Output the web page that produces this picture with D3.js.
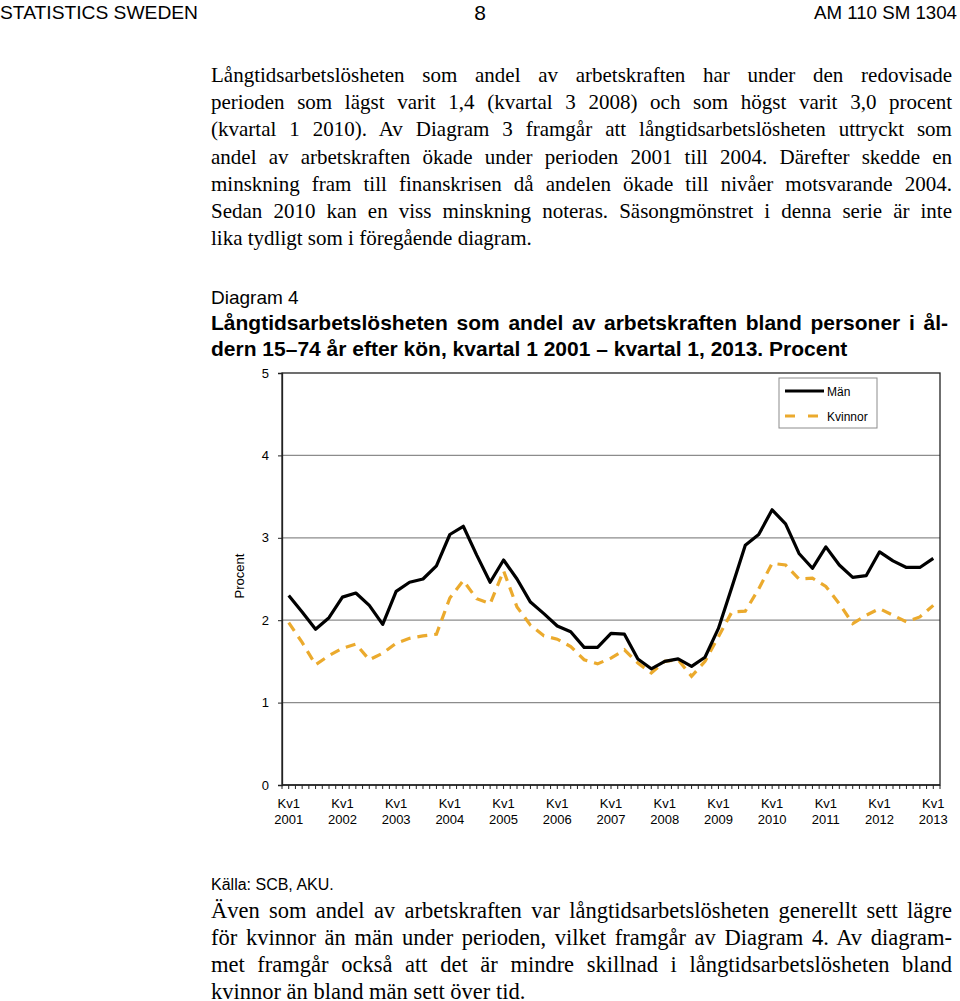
<!DOCTYPE html>
<html><head><meta charset="utf-8">
<script src="https://cdn.jsdelivr.net/npm/d3@7"></script>
<style>body{margin:0;background:#fff}svg{display:block}</style>
</head><body>
<script>
const years = ["2001","2002","2003","2004","2005","2006","2007","2008","2009","2010","2011","2012","2013"];
const quarters = d3.range(49).map(i => years[Math.floor(i/4)] + "Q" + (i%4+1));
const men = [2.30,2.10,1.89,2.03, 2.28,2.33,2.18,1.95, 2.35,2.46,2.50,2.66, 3.04,3.14,2.79,2.46,
  2.73,2.50,2.22,2.08, 1.93,1.86,1.67,1.67, 1.84,1.83,1.53,1.41, 1.50,1.53,1.44,1.55,
  1.90,2.40,2.91,3.04, 3.34,3.17,2.81,2.63, 2.89,2.67,2.52,2.54, 2.83,2.72,2.64,2.64, 2.75];
const women = [1.97,1.73,1.46,1.57, 1.66,1.71,1.52,1.60, 1.72,1.78,1.81,1.83, 2.27,2.48,2.26,2.20,
  2.60,2.16,1.94,1.81, 1.77,1.68,1.52,1.47, 1.54,1.64,1.48,1.36, 1.50,1.52,1.32,1.50,
  1.80,2.10,2.11,2.38, 2.69,2.67,2.50,2.51, 2.41,2.20,1.96,2.06, 2.14,2.06,1.98,2.04, 2.18];
const yTicks = [0,1,2,3,4,5];
const seriesNames = ["Män","Kvinnor"];

const para1 = [
 "Långtidsarbetslösheten som andel av arbetskraften har under den redovisade",
 "perioden som lägst varit 1,4 (kvartal 3 2008) och som högst varit 3,0 procent",
 "(kvartal 1 2010). Av Diagram 3 framgår att långtidsarbetslösheten uttryckt som",
 "andel av arbetskraften ökade under perioden 2001 till 2004. Därefter skedde en",
 "minskning fram till finanskrisen då andelen ökade till nivåer motsvarande 2004.",
 "Sedan 2010 kan en viss minskning noteras. Säsongmönstret i denna serie är inte",
 "lika tydligt som i föregående diagram."];
const para2 = [
 "Även som andel av arbetskraften var långtidsarbetslösheten generellt sett lägre",
 "för kvinnor än män under perioden, vilket framgår av Diagram 4. Av diagram-",
 "met framgår också att det är mindre skillnad i långtidsarbetslösheten bland",
 "kvinnor än bland män sett över tid."];

const W = 960, H = 1001;
const svg = d3.select("body").append("svg").attr("width", W).attr("height", H);
const sans = "'Liberation Sans', Arial, sans-serif";
const serif = "'Liberation Serif', 'Times New Roman', serif";

function justify(el, width){
  const node = el.node();
  const natural = node.getComputedTextLength();
  const n = (el.text().match(/ /g) || []).length;
  if (natural > width) { el.attr("textLength", width).attr("lengthAdjust","spacingAndGlyphs"); return; }
  if (n > 0) el.attr("word-spacing", ((width - natural)/n).toFixed(2));
}

// header
svg.append("text").attr("x",0).attr("y",19).attr("font-family",sans).attr("font-size",18)
  .attr("textLength",198).attr("lengthAdjust","spacingAndGlyphs").text("STATISTICS SWEDEN");
svg.append("text").attr("x",480).attr("y",20).attr("font-family",sans).attr("font-size",21)
  .attr("text-anchor","middle").text("8");
svg.append("text").attr("x",957).attr("y",19).attr("font-family",sans).attr("font-size",18)
  .attr("text-anchor","end").attr("textLength",143).attr("lengthAdjust","spacingAndGlyphs").text("AM 110 SM 1304");

function para(lines, y0, lh, fs, width){
  lines.forEach((t,i)=>{
    const el = svg.append("text").attr("x",211).attr("y",y0+i*lh)
      .attr("font-family",serif).attr("font-size",fs).attr("fill","#000").text(t);
    if (i < lines.length-1) justify(el, width);
  });
}
para(para1, 82, 27.2, 21, 741);
para(para2, 918, 27, 22.5, 741);

// diagram title
svg.append("text").attr("x",211).attr("y",304).attr("font-family",sans).attr("font-size",19).text("Diagram 4");
const t1 = svg.append("text").attr("x",211).attr("y",330).attr("font-family",sans).attr("font-size",21).attr("font-weight","bold")
  .text("Långtidsarbetslösheten som andel av arbetskraften bland personer i ål-");
justify(t1, 737);
svg.append("text").attr("x",211).attr("y",356).attr("font-family",sans).attr("font-size",21).attr("font-weight","bold")
  .text("dern 15–74 år efter kön, kvartal 1 2001 – kvartal 1, 2013. Procent");

// chart
const L = 282, R = 940, T = 373, B = 785;
const x = d3.scaleBand().domain(quarters).range([L, R]).padding(0);
const y = d3.scaleLinear().domain([0,5]).range([B, T]);
const cx = q => x(q) + x.bandwidth()/2;

// gridlines
svg.append("g").selectAll("line").data(yTicks.filter(v=>v>0 && v<5)).join("line")
  .attr("x1",L).attr("x2",R).attr("y1",d=>y(d)).attr("y2",d=>y(d))
  .attr("stroke","#8c8c8c").attr("stroke-width",1.2);

// frame
svg.append("rect").attr("x",L).attr("y",T).attr("width",R-L).attr("height",B-T)
  .attr("fill","none").attr("stroke","#222").attr("stroke-width",1.3);

// y axis
const yAxis = svg.append("g").attr("transform",`translate(${L},0)`)
  .call(d3.axisLeft(y).tickValues(yTicks).tickSize(4).tickPadding(9).tickFormat(d3.format("d")));
yAxis.select(".domain").attr("stroke","#222").attr("stroke-width",1.3);
yAxis.selectAll("line").attr("stroke","#222");
yAxis.selectAll("text").attr("font-family",sans).attr("font-size",13).attr("fill","#000");

// x axis ticks every half category
const half = x.bandwidth()/2;
svg.append("line").attr("x1",L).attr("x2",R).attr("y1",B).attr("y2",B).attr("stroke","#222").attr("stroke-width",1.5);
svg.append("g").selectAll("line").data(d3.range(0, 99)).join("line")
  .attr("x1",d=>L+d*half).attr("x2",d=>L+d*half).attr("y1",B).attr("y2",B+4)
  .attr("stroke","#222").attr("stroke-width",1);

const labQ = quarters.filter((q,i)=>i%4===0);
const xl = svg.append("g").selectAll("text").data(labQ).join("text")
  .attr("x",d=>cx(d)).attr("y",808).attr("text-anchor","middle")
  .attr("font-family",sans).attr("font-size",13);
xl.append("tspan").attr("x",d=>cx(d)).attr("dy",0).text("Kv1");
xl.append("tspan").attr("x",d=>cx(d)).attr("dy",15.5).text(d=>d.slice(0,4));

svg.append("text").attr("transform","translate(244,576) rotate(-90)").attr("text-anchor","middle")
  .attr("font-family",sans).attr("font-size",13).text("Procent");

// lines
const line = d3.line().x((d,i)=>cx(quarters[i])).y(d=>y(d));
svg.append("path").datum(women).attr("d",line).attr("fill","none")
  .attr("stroke","#EBAA2D").attr("stroke-width",3.2).attr("stroke-dasharray","10,7");
svg.append("path").datum(men).attr("d",line).attr("fill","none")
  .attr("stroke","#000").attr("stroke-width",3.2).attr("stroke-linejoin","round");

// legend
const lg = svg.append("g");
lg.append("rect").attr("x",779).attr("y",378).attr("width",98).attr("height",50)
  .attr("fill","#fff").attr("stroke","#8c8c8c").attr("stroke-width",1);
lg.append("line").attr("x1",785).attr("x2",824).attr("y1",391).attr("y2",391).attr("stroke","#000").attr("stroke-width",3.2);
lg.append("line").attr("x1",785).attr("x2",824).attr("y1",416).attr("y2",416).attr("stroke","#EBAA2D").attr("stroke-width",3.2).attr("stroke-dasharray","10,13");
lg.append("text").attr("x",827).attr("y",396).attr("font-family",sans).attr("font-size",12).text(seriesNames[0]);
lg.append("text").attr("x",827).attr("y",421).attr("font-family",sans).attr("font-size",12).text(seriesNames[1]);

// source
svg.append("text").attr("x",211).attr("y",890).attr("font-family",sans).attr("font-size",16).text("Källa: SCB, AKU.");
</script>
</body></html>
